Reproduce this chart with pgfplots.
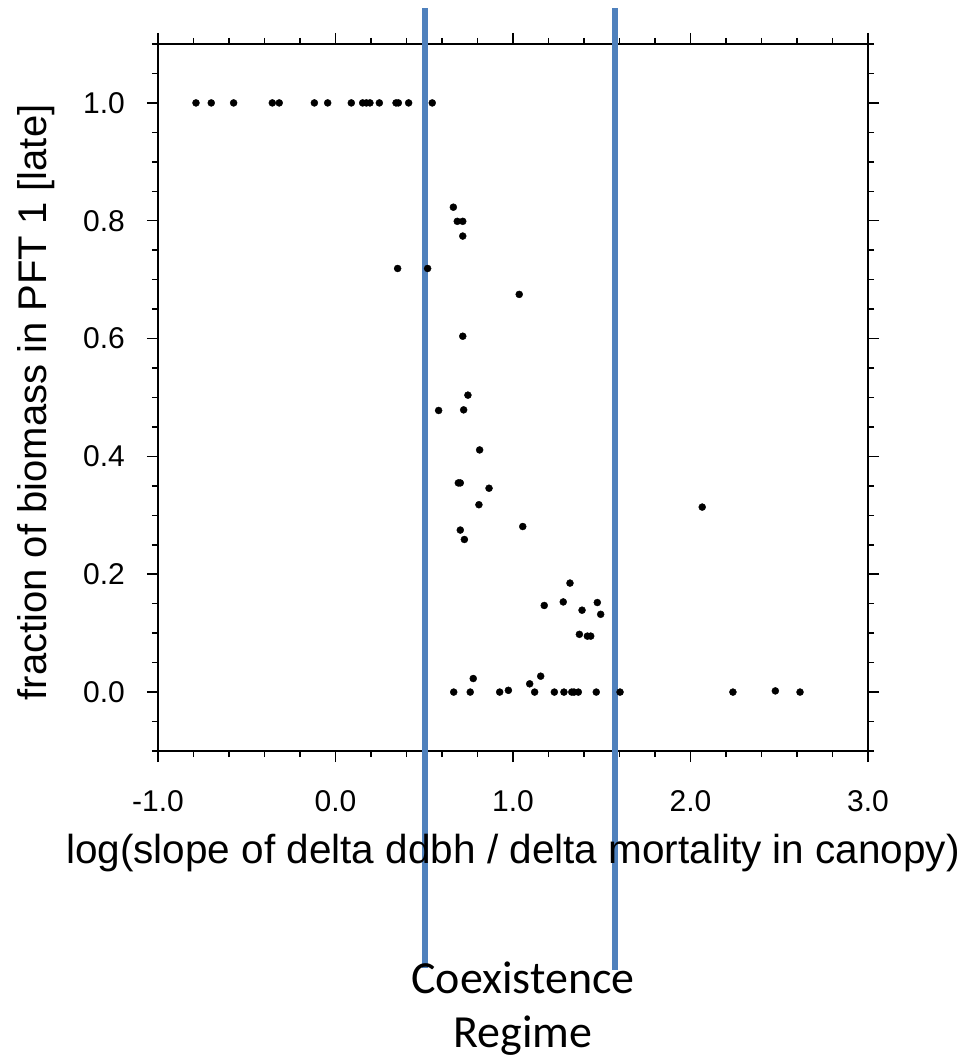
\documentclass[border=0pt]{standalone}
\usepackage{pgfplots}
\pgfplotsset{compat=1.18}
\usepackage{fontspec}
\setmainfont{Liberation Sans}
\newfontfamily\calibri{Carlito}
\definecolor{regime}{RGB}{79,129,189}

\pgfplotstableread{
x      y
-0.786 1.000
-0.700 1.000
-0.574 1.000
-0.356 1.000
-0.317 1.000
-0.119 1.000
-0.044 1.000
0.089  1.000
0.153  1.000
0.174  1.000
0.194  1.000
0.247  1.000
0.341  1.000
0.354  1.000
0.412  1.000
0.545  1.000
0.664  0.823
0.686  0.799
0.717  0.799
0.717  0.774
0.350  0.719
0.519  0.719
1.035  0.675
0.717  0.604
0.746  0.504
0.581  0.478
0.722  0.479
0.812  0.411
0.692  0.355
0.703  0.355
0.865  0.346
0.808  0.318
1.055  0.281
0.703  0.275
0.726  0.259
1.321  0.185
1.176  0.147
1.283  0.153
1.389  0.139
1.475  0.152
1.494  0.132
1.374  0.098
1.419  0.095
1.438  0.095
0.776  0.023
1.156  0.027
1.094  0.014
0.974  0.003
0.666  0.000
0.759  0.000
0.925  0.000
1.122  0.000
1.233  0.000
1.287  0.000
1.331  0.000
1.344  0.000
1.368  0.000
1.469  0.000
1.603  0.000
2.066  0.314
2.239  0.000
2.478  0.002
2.617  0.000
}\biomass

\begin{document}
\begin{tikzpicture}
\path[use as bounding box] (0pt,0pt) rectangle (963pt,1058pt);
\begin{axis}[
  at={(158pt,307pt)}, anchor=south west,
  width=710pt, height=707pt, scale only axis,
  xmin=-1, xmax=3, ymin=-0.1, ymax=1.1,
  xtick={-1,0,1,2,3},
  ytick={0,0.2,0.4,0.6,0.8,1.0},
  minor xtick={-0.8,-0.6,-0.4,-0.2,0.2,0.4,0.6,0.8,1.2,1.4,1.6,1.8,2.2,2.4,2.6,2.8},
  minor ytick={-0.1,-0.05,0.05,0.1,0.15,0.25,0.3,0.35,0.45,0.5,0.55,0.65,0.7,0.75,0.85,0.9,0.95,1.05,1.1},
  tick align=outside,
  major tick length=11pt, minor tick length=6pt,
  every tick/.style={black, line width=1.5pt},
  axis line style={line width=1.8pt},
  xticklabel={\pgfmathprintnumber[fixed,fixed zerofill,precision=1]{\tick}},
  yticklabel={\pgfmathprintnumber[fixed,fixed zerofill,precision=1]{\tick}},
  /pgf/number format/assume math mode=true,
  ticklabel style={font=\fontsize{30}{36}\selectfont, inner sep=0pt},
  xticklabel style={anchor=north, yshift=-28pt},
  yticklabel style={anchor=east, xshift=-22pt},
  xlabel={log(slope of delta ddbh / delta mortality in canopy)},
  ylabel={fraction of biomass in PFT 1 [late]},
  xlabel style={font=\fontsize{40.5}{48}\selectfont, at={(axis description cs:0.5,0)}, anchor=base, yshift=-112pt, inner sep=0pt},
  ylabel style={font=\fontsize{40}{48}\selectfont, at={(axis description cs:-0.1718,0.493)}, anchor=center, inner sep=0pt},
  clip=false,
]
\addplot[only marks, mark=*, mark size=3.5pt, black] table[x=x, y=y] {\biomass};
\draw[regime, line width=6pt] (axis cs:0.504,1.161) -- (axis cs:0.504,-0.469);
\draw[regime, line width=6pt] (axis cs:1.572,1.161) -- (axis cs:1.572,-0.472);
\node[font=\calibri\fontsize{46}{55}\selectfont, anchor=base, inner sep=0pt] at (axis cs:1.056,-0.511) {Coexistence};
\node[font=\calibri\fontsize{46}{55}\selectfont, anchor=base, inner sep=0pt] at (axis cs:1.056,-0.603) {Regime};
\end{axis}
\end{tikzpicture}
\end{document}
